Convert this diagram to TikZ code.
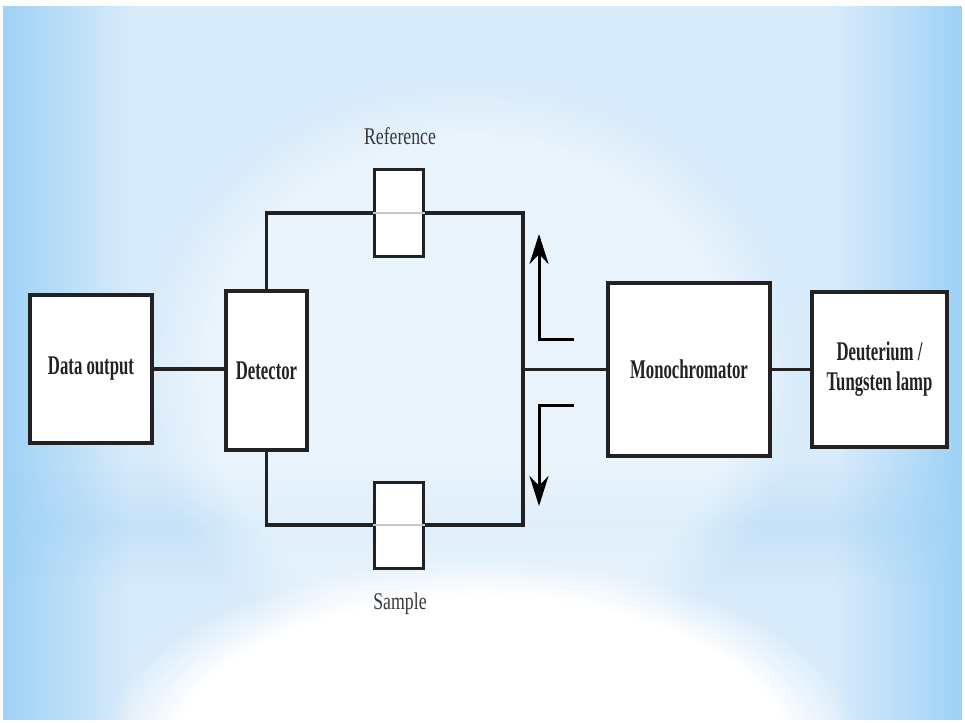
\documentclass[tikz,border=0pt]{standalone}
\usepackage{fontspec}
\setmainfont{Liberation Serif}
\usetikzlibrary{arrows.meta,fadings}
\definecolor{edgeblue}{HTML}{9ED2F6}
\definecolor{midblue}{HTML}{D8EBFA}
\definecolor{bandblue}{HTML}{C4E2F8}
\definecolor{linecol}{HTML}{222222}
\tikzfading[name=fadeR, left color=transparent!0, right color=transparent!100]
\tikzfading[name=fadeL, left color=transparent!100, right color=transparent!0]
\newcommand{\boxtxt}[1]{\scalebox{0.62}[1]{#1}}
\newcommand{\lbltxt}[1]{\scalebox{0.74}[1]{#1}}
\tikzset{
  box/.style={draw=linecol, line width=3.2pt, fill=white, inner sep=0pt,
    font=\fontsize{27}{34}\selectfont\bfseries, text=linecol, align=center},
  cuvette/.style={draw=linecol, line width=3pt, fill=white, inner sep=0pt},
  wire/.style={draw=linecol, line width=3.4pt},
  beam/.style={draw=black!22, line width=1.4pt},
  lbl/.style={font=\fontsize{24}{26}\selectfont, text=black!78},
  arr/.style={draw=black, line width=3pt, -{Stealth[length=30pt,width=19pt]}}
}
\begin{document}
\begin{tikzpicture}[x=1pt,y=-1pt]
\useasboundingbox (0,0) rectangle (965,722);
\fill[white] (0,0) rectangle (965,722);
\fill[midblue] (3,6) rectangle (962,720);
\shade[top color=midblue, bottom color=midblue, middle color=bandblue] (3,460) rectangle (962,590);
\fill[white, opacity=0.45, path fading=circle with fuzzy edge 20 percent] (470,380) ellipse (330 and 300);
\fill[white, path fading=circle with fuzzy edge 20 percent] (480,750) ellipse (380 and 190);
\fill[edgeblue, path fading=fadeR] (3,6) rectangle (130,720);
\fill[edgeblue, path fading=fadeL] (835,6) rectangle (962,720);

\node[box, minimum width=122pt, minimum height=148pt] (dataout) at (91,369) {\boxtxt{Data output}};
\node[box, minimum width=81pt, minimum height=159pt] (detector) at (266.5,370.5) {\boxtxt{Detector}};
\node[cuvette, minimum width=49pt, minimum height=87pt] (ref) at (398.5,213) {};
\node[cuvette, minimum width=49pt, minimum height=86pt] (samp) at (398.5,525) {};
\node[box, minimum width=162pt, minimum height=173pt] (mono) at (689,369.5) {\boxtxt{Monochromator}};
\node[box, minimum width=135pt, minimum height=155pt] (lamp) at (879.5,369.5) {\boxtxt{Deuterium /}\\[-4pt]\boxtxt{Tungsten lamp}};

\draw[beam] (ref.west) -- (ref.east);
\draw[beam] (samp.west) -- (samp.east);

\node[lbl] (reflbl) at (400,136) {\lbltxt{Reference}};
\node[lbl] (samplbl) at (400,604) {\lbltxt{Sample}};

\coordinate (tr) at (523,213);
\coordinate (br) at (523,525);
\coordinate (mid) at (523,369.5);
\coordinate (ua) at (574,339);
\coordinate (uc) at (539,339);
\coordinate (ut) at (539,234);
\coordinate (da) at (574,405);
\coordinate (dc) at (539,405);
\coordinate (dt) at (539,506);

\draw[wire] (dataout.east) -- (dataout.east -| detector.west);
\draw[wire] (detector.north) |- (ref.west);
\draw[wire] (ref.east) -- (tr) -- (br) -- (samp.east);
\draw[wire] (detector.south) |- (samp.west);
\draw[wire] (mid) -- (mono.west);
\draw[wire] (mono.east) -- (lamp.west);
\draw[arr] (ua) -- (uc) -- (ut);
\draw[arr] (da) -- (dc) -- (dt);
\end{tikzpicture}
\end{document}
